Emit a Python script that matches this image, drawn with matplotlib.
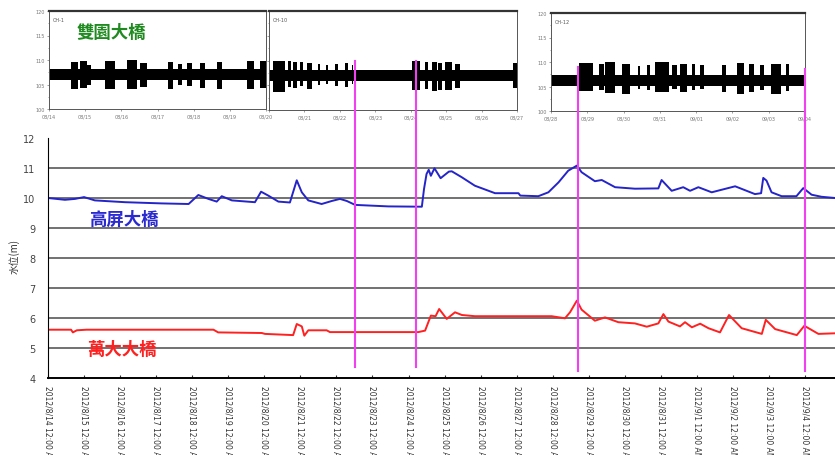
import matplotlib
matplotlib.use('Agg')
import matplotlib.pyplot as plt
from matplotlib.lines import Line2D
from matplotlib.transforms import blended_transform_factory

plt.rcParams['font.family'] = ['DejaVu Sans', 'Noto Sans CJK TC']

W, H = 835, 456

# water level, x = days after 2012/8/14 00:00
blue_days = [0.00, 0.47, 0.75, 1.00, 1.30, 2.14, 3.15, 3.90, 4.17, 4.45, 4.68, 4.82,
             5.10, 5.74, 5.91, 6.11, 6.39, 6.71, 6.90, 7.04, 7.22, 7.59, 7.87, 8.10,
             8.29, 8.52, 9.44, 10.37, 10.43, 10.50, 10.56, 10.62, 10.72, 10.89, 11.12,
             11.20, 11.48, 11.84, 12.40, 13.05, 13.10, 13.60, 13.88, 14.16, 14.43,
             14.67, 14.80, 15.17, 15.36, 15.73, 16.28, 16.93, 17.02, 17.30, 17.62,
             17.81, 18.04, 18.41, 19.06, 19.61, 19.78, 19.84, 19.93, 20.07, 20.35,
             20.76, 20.95, 21.18, 21.46, 21.83]
blue_level = [10.00, 9.94, 9.97, 10.03, 9.92, 9.86, 9.82, 9.80, 10.10, 9.97, 9.88, 10.06,
              9.92, 9.86, 10.21, 10.08, 9.88, 9.85, 10.59, 10.19, 9.92, 9.80, 9.90, 9.97,
              9.90, 9.77, 9.72, 9.71, 10.30, 10.80, 10.94, 10.74, 10.99, 10.66, 10.88,
              10.89, 10.69, 10.41, 10.16, 10.16, 10.08, 10.06, 10.19, 10.52, 10.91,
              11.08, 10.86, 10.56, 10.60, 10.36, 10.31, 10.32, 10.60, 10.24, 10.36,
              10.24, 10.36, 10.19, 10.39, 10.13, 10.16, 10.67, 10.58, 10.19, 10.06,
              10.06, 10.33, 10.11, 10.04, 10.00]

red_days = [0.00, 0.64, 0.69, 0.80, 1.07, 4.59, 4.72, 5.93, 6.02, 6.80, 6.90, 7.04,
            7.11, 7.22, 7.73, 7.82, 10.27, 10.46, 10.62, 10.75, 10.85, 11.06, 11.29,
            11.48, 11.84, 13.97, 14.34, 14.48, 14.67, 14.80, 15.17, 15.45, 15.82,
            16.28, 16.61, 16.93, 17.07, 17.21, 17.53, 17.67, 17.86, 18.09, 18.32,
            18.64, 18.89, 19.24, 19.80, 19.91, 20.17, 20.77, 20.98, 21.37, 21.83]
red_level = [5.61, 5.61, 5.52, 5.59, 5.61, 5.61, 5.52, 5.50, 5.47, 5.43, 5.80, 5.72,
             5.41, 5.59, 5.59, 5.53, 5.53, 5.58, 6.08, 6.06, 6.30, 5.97, 6.19,
             6.10, 6.06, 6.06, 5.99, 6.19, 6.58, 6.28, 5.91, 6.02, 5.86,
             5.82, 5.71, 5.82, 6.13, 5.88, 5.72, 5.86, 5.69, 5.81, 5.66,
             5.52, 6.10, 5.66, 5.47, 5.94, 5.63, 5.43, 5.74, 5.47, 5.49]

date_labels = ['2012/8/14', '2012/8/15', '2012/8/16', '2012/8/17', '2012/8/18',
               '2012/8/19', '2012/8/20', '2012/8/21', '2012/8/22', '2012/8/23',
               '2012/8/24', '2012/8/25', '2012/8/26', '2012/8/27', '2012/8/28',
               '2012/8/29', '2012/8/30', '2012/8/31', '2012/9/1', '2012/9/2',
               '2012/9/3', '2012/9/4']

# marked events (days)
event_days = [8.52, 10.22, 14.71, 21.0]

# seismic records: constant background band + bursts (start, end, top, bottom)
panel_days = [(0, 6), (6, 13), (14, 21)]
panel_ticklabels = [['08/14', '08/15', '08/16', '08/17', '08/18', '08/19', '08/20'],
                    ['', '08/21', '08/22', '08/23', '08/24', '08/25', '08/26', '08/27'],
                    ['08/28', '08/29', '08/30', '08/31', '09/01', '09/02', '09/03', '09/04']]
panel_names = ['CH-1', 'CH-10', 'CH-12']
band_low = [106.0, 105.9, 105.2]
band_high = [108.1, 108.0, 107.3]
bursts_1 = [(0.62, 0.80, 109.6, 104.0), (0.85, 1.04, 109.8, 104.2), (1.05, 1.15, 109.0, 104.8),
            (1.54, 1.82, 109.8, 104.0), (2.15, 2.42, 109.9, 104.0), (2.51, 2.70, 109.4, 104.5),
            (3.30, 3.44, 109.6, 104.0), (3.57, 3.67, 109.2, 105.0), (3.81, 3.95, 109.4, 104.6),
            (4.18, 4.32, 109.3, 104.3), (4.64, 4.78, 109.5, 104.0), (5.47, 5.66, 109.7, 104.1),
            (5.84, 6.00, 109.8, 104.2)]
bursts_2 = [(6.11, 6.44, 110.0, 103.6), (6.54, 6.63, 109.8, 104.6), (6.68, 6.78, 109.6, 104.4),
            (6.87, 6.96, 109.7, 104.8), (7.06, 7.20, 109.5, 104.2), (7.39, 7.43, 109.2, 105.0),
            (7.62, 7.67, 109.0, 105.2), (7.86, 7.95, 109.3, 104.8), (8.14, 8.24, 109.5, 104.6),
            (8.33, 8.38, 109.0, 105.2), (10.03, 10.26, 109.8, 104.0), (10.41, 10.50, 109.6, 104.2),
            (10.60, 10.74, 109.7, 103.8), (10.78, 10.88, 109.5, 104.0), (10.97, 11.16, 109.6, 104.0),
            (11.25, 11.40, 109.3, 104.5), (12.90, 13.00, 109.5, 104.5)]
bursts_3 = [(14.76, 15.17, 109.8, 104.0), (15.31, 15.45, 109.5, 104.2), (15.49, 15.77, 109.9, 103.6),
            (15.95, 16.18, 109.6, 103.4), (16.41, 16.46, 109.2, 104.5), (16.64, 16.74, 109.4, 104.2),
            (16.87, 17.24, 109.9, 103.8), (17.33, 17.47, 109.4, 104.5), (17.56, 17.75, 109.6, 103.8),
            (17.89, 17.98, 109.5, 104.3), (18.12, 18.21, 109.3, 104.5), (18.72, 18.81, 109.4, 103.8),
            (19.13, 19.31, 109.7, 103.4), (19.45, 19.59, 109.6, 103.8), (19.77, 19.86, 109.4, 104.2),
            (20.05, 20.33, 109.6, 103.5), (20.47, 20.56, 109.5, 104.0)]
panel_bursts = [bursts_1, bursts_2, bursts_3]


def box(x0, y0, x1, y1):
    return [x0 / W, 1 - y1 / H, (x1 - x0) / W, (y1 - y0) / H]


fig = plt.figure(figsize=(W / 100, H / 100), dpi=100)

# main water-level chart
ax = fig.add_axes(box(48, 139, 835, 379))
for v in range(5, 12):
    ax.axhline(v, color='#4a4a4a', lw=1.1, zorder=0)
ax.plot(blue_days, blue_level, color='#2424c8', lw=1.4)
ax.plot(red_days, red_level, color='#ff2020', lw=1.4)
ax.set_xlim(0, 21.83)
ax.set_ylim(4, 12)
ax.spines['top'].set_visible(False)
ax.spines['right'].set_visible(False)
ax.spines['bottom'].set_linewidth(1.4)
ax.set_yticks(range(4, 13))
ax.set_xticks(range(len(date_labels)))
ax.set_xticklabels([d + ' 12:00 AM' for d in date_labels], rotation=-90,
                   fontsize=5.5, va='top', ha='center', color='#333333')
ax.tick_params(axis='x', direction='in', length=2.5, pad=5, color='#333333')
ax.tick_params(axis='y', length=0, pad=9, labelsize=7, labelcolor='#444444')
ax.set_ylabel('水位(m)', fontsize=7, family=['Noto Sans CJK TC', 'DejaVu Sans'], color='#333333')
ax.yaxis.set_label_coords(-0.036, 0.51)

# seismic panels
layout = [(49, 12, 266, 110), (269, 12, 517, 111), (551, 14, 805, 112)]
for i, (x0, y0, x1, y1) in enumerate(layout):
    pax = fig.add_axes(box(x0, y0, x1, y1))
    d0, d1 = panel_days[i]
    pax.fill_between([d0, d1], band_low[i], band_high[i], color='black', lw=0)
    for s, e, top, bot in panel_bursts[i]:
        pax.bar(s, top - bot, width=e - s, bottom=bot, align='edge', color='black', lw=0)
    pax.set_xlim(d0, d1)
    pax.set_ylim(100, 120)
    pax.set_xticks(range(d0, d1 + 1))
    pax.set_xticklabels(panel_ticklabels[i])
    pax.set_yticks([100, 105, 110, 115, 120])
    pax.set_yticks([102.5, 107.5, 112.5, 117.5], minor=True)
    pax.tick_params(labelsize=3.5, length=1.5, width=0.5, colors='#777777', pad=1.5)
    pax.tick_params(which='minor', length=1, width=0.5, colors='#777777')
    if i == 1:
        pax.tick_params(axis='y', labelleft=False)
    for sp in pax.spines.values():
        sp.set_linewidth(0.7)
        sp.set_color('#555555')
    pax.spines['top'].set_linewidth(1.6)
    pax.spines['top'].set_color('#333333')
    pax.text(0.015, 0.9, panel_names[i], transform=pax.transAxes, fontsize=3.5, color='#555555')

# event markers spanning panels and chart
trans = blended_transform_factory(ax.transData, fig.transFigure)
spans = [(62, 368), (62, 368), (68, 372), (70, 372)]
for d, (top, bot) in zip(event_days, spans):
    fig.add_artist(Line2D([d, d], [1 - top / H, 1 - bot / H], transform=trans,
                          color='#f040f0', lw=1.5))

# station names
cjk = ['Noto Sans CJK TC', 'DejaVu Sans']
fig.text(111 / W, 1 - 33 / H, '雙園大橋', family=cjk, fontsize=12.5, weight='bold',
         color='#1f8a1f', ha='center', va='center')
fig.text(124 / W, 1 - 220 / H, '高屏大橋', family=cjk, fontsize=12.5, weight='bold',
         color='#2a2ad0', ha='center', va='center')
fig.text(122 / W, 1 - 350 / H, '萬大大橋', family=cjk, fontsize=12.5, weight='bold',
         color='#ff2020', ha='center', va='center')

fig.savefig('out.png', dpi=100)
